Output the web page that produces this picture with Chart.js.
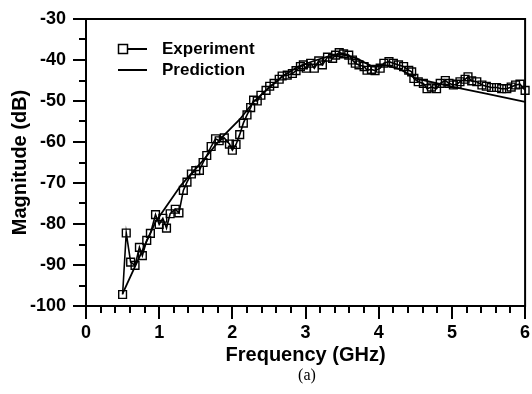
<!DOCTYPE html>
<html>
<head>
<meta charset="utf-8">
<script src="https://cdn.jsdelivr.net/npm/chart.js@4.4.1/dist/chart.umd.min.js"></script>
<style>
html,body{margin:0;padding:0;background:#fff;}
#wrap{position:relative;width:532px;height:394px;}
</style>
</head>
<body>
<div id="wrap"><canvas id="c" width="532" height="394"></canvas></div>
<script>
// Experiment: frequency (GHz) and magnitude (dB)
const expFreq = [0.50,0.55,0.61,0.67,0.73,0.77,0.83,0.88,0.95,1.00,
  1.05,1.10,1.15,1.22,1.27,1.33,1.38,1.44,1.50,1.55,
  1.60,1.65,1.71,1.77,1.82,1.89,1.96,2.00,2.05,2.10,
  2.15,2.20,2.25,2.29,2.34,2.39,2.46,2.51,2.57,2.64,
  2.68,2.75,2.82,2.87,2.93,2.97,3.01,3.07,3.12,3.18,
  3.23,3.30,3.37,3.41,3.46,3.52,3.59,3.64,3.68,3.73,
  3.80,3.84,3.90,3.95,4.02,4.07,4.14,4.20,4.27,4.34,
  4.41,4.45,4.48,4.54,4.61,4.66,4.72,4.79,4.84,4.91,
  4.96,5.02,5.07,5.11,5.18,5.22,5.27,5.34,5.41,5.47,
  5.54,5.61,5.68,5.75,5.81,5.87,5.93,6.00];
const expMag = [-97.2,-82.2,-89.3,-90.1,-85.7,-87.7,-84.0,-82.3,-77.7,-80.1,
  -78.6,-81.0,-77.5,-76.4,-77.3,-71.8,-69.8,-67.8,-67.0,-66.9,
  -65.0,-63.3,-61.1,-59.2,-59.7,-59.0,-60.5,-62.0,-60.6,-58.2,
  -55.4,-53.4,-51.6,-49.8,-50.0,-48.6,-47.4,-46.4,-45.7,-44.7,
  -43.9,-43.7,-43.3,-42.6,-41.6,-41.2,-42.0,-40.8,-42.0,-40.2,
  -41.2,-39.3,-39.6,-38.8,-38.2,-38.5,-38.8,-40.0,-40.8,-41.2,
  -41.6,-42.5,-42.3,-42.6,-42.0,-40.8,-40.4,-40.8,-41.2,-41.6,
  -42.5,-42.9,-44.5,-45.3,-45.7,-47.0,-46.6,-47.0,-45.7,-45.0,
  -45.7,-46.1,-45.9,-45.3,-44.7,-44.1,-45.1,-45.3,-46.1,-46.4,
  -46.7,-46.7,-47.0,-47.0,-46.6,-46.1,-45.9,-47.4];
// Prediction
const predFreq = [0.5,0.95,1.3,1.6,1.85,2.1,2.3,2.5,2.7,2.9,3.1,3.3,3.5,3.7,3.9,4.1,4.3,4.5,5.0,5.5,6.0];
const predMag = [-97,-79.5,-70.5,-64.5,-59,-54.5,-50,-46.8,-43.8,-41.6,-40.3,-39.2,-38.6,-39.6,-41.5,-41.3,-42.3,-44.5,-46.5,-48.3,-50.2];
// Axis ticks
const xTicks = [0,1,2,3,4,5,6];
const yTicks = [-100,-90,-80,-70,-60,-50,-40,-30];
const seriesNames = ["Experiment","Prediction"];
const xTitle = "Frequency (GHz)";
const yTitle = "Magnitude (dB)";
const caption = "(a)";

const FONT = "'Liberation Sans', Arial, sans-serif";

const expData = expFreq.map((f,i)=>({x:f,y:expMag[i]}));
const predData = predFreq.map((f,i)=>({x:f,y:predMag[i]}));

const extras = {
  id:'extras',
  afterDraw(chart){
    const ctx = chart.ctx, a = chart.chartArea;
    const xs = chart.scales.x, ys = chart.scales.y;
    ctx.save();
    ctx.strokeStyle = '#000';
    // frame
    ctx.lineWidth = 2;
    ctx.strokeRect(a.left, a.top, a.right-a.left, a.bottom-a.top);
    // minor ticks
    ctx.lineWidth = 2;
    ctx.beginPath();
    for (let v=-95; v<-30; v+=10){
      const y = Math.round(ys.getPixelForValue(v));
      ctx.moveTo(a.left-7, y); ctx.lineTo(a.left, y);
    }
    for (let k=0; k<=30; k++){
      if (k%5===0) continue;
      const x = Math.round(xs.getPixelForValue(k*0.2));
      ctx.moveTo(x, a.bottom); ctx.lineTo(x, a.bottom+7);
    }
    ctx.stroke();
    // legend
    ctx.lineWidth = 1.8;
    ctx.beginPath();
    ctx.moveTo(118,49); ctx.lineTo(147,49);
    ctx.moveTo(118,70); ctx.lineTo(147,70);
    ctx.stroke();
    ctx.fillStyle='#fff';
    ctx.lineWidth = 1.5;
    ctx.fillRect(118.5,44.5,9,9);
    ctx.strokeRect(118.5,44.5,9,9);
    ctx.fillStyle = '#000';
    ctx.font = "bold 17px " + FONT;
    ctx.textBaseline = 'middle';
    ctx.textAlign = 'left';
    ctx.fillText(seriesNames[0], 162, 49);
    ctx.fillText(seriesNames[1], 162, 70);
    // caption
    ctx.font = "16px 'Liberation Serif', 'Times New Roman', serif";
    ctx.textAlign = 'center';
    ctx.fillText(caption, 307, 376);
    ctx.restore();
  }
};

new Chart(document.getElementById('c'), {
  type:'line',
  data:{
    datasets:[
      {label:seriesNames[0], data:expData, borderColor:'#000', borderWidth:1.6,
       pointStyle:'rect', pointRadius:5.5, pointBorderWidth:1.4,
       pointBackgroundColor:'rgba(255,255,255,0)', pointBorderColor:'#000',
       tension:0, clip:false},
      {label:seriesNames[1], data:predData, borderColor:'#000', borderWidth:1.8,
       pointRadius:0, tension:0, clip:false}
    ]
  },
  options:{
    responsive:false, animation:false, devicePixelRatio:1,
    layout:{padding:{top:19,right:5,left:0,bottom:0}},
    plugins:{legend:{display:false}, tooltip:{enabled:false}},
    scales:{
      x:{type:'linear', min:0, max:6,
        afterFit(s){ s.height = 88; s.paddingLeft = 0; s.paddingRight = 0; },
        afterBuildTicks(s){ s.ticks = xTicks.map(v=>({value:v})); },
        ticks:{color:'#000', font:{family:FONT, weight:'bold', size:18}, padding:3, maxRotation:0,
               callback:v=>String(v)},
        grid:{drawOnChartArea:false, drawTicks:true, tickLength:13, color:'#000', lineWidth:2},
        border:{display:false},
        title:{display:true, text:xTitle, color:'#000', font:{family:FONT, weight:'bold', size:20}, padding:{top:0,bottom:27}}
      },
      y:{type:'linear', min:-100, max:-30,
        afterFit(s){ s.width = 86; s.paddingTop = 0; s.paddingBottom = 0; },
        afterBuildTicks(s){ s.ticks = yTicks.map(v=>({value:v})); },
        ticks:{color:'#000', font:{family:FONT, weight:'bold', size:18}, padding:7,
               callback:v=>String(v)},
        grid:{drawOnChartArea:false, drawTicks:true, tickLength:13, color:'#000', lineWidth:2},
        border:{display:false},
        title:{display:true, text:yTitle, color:'#000', font:{family:FONT, weight:'bold', size:20}, padding:{top:8,bottom:0}}
      }
    }
  },
  plugins:[extras]
});
</script>
</body>
</html>
